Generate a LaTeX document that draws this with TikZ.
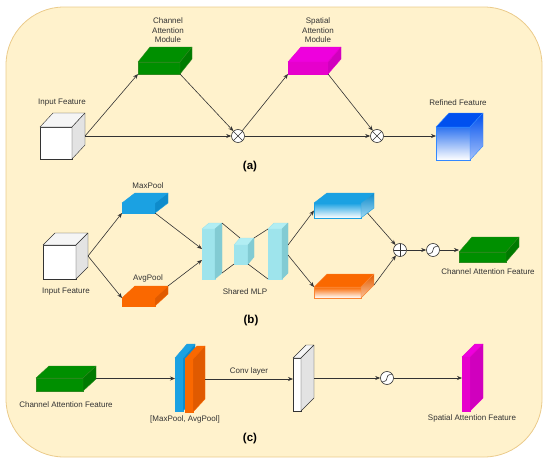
\documentclass[tikz,border=0pt]{standalone}
\usepackage{fontspec}
\setmainfont{Liberation Sans}
\usetikzlibrary{arrows.meta,calc}

\definecolor{panelfill}{HTML}{FFF2CC}
\definecolor{paneledge}{HTML}{EBCB8B}
\definecolor{inktext}{HTML}{333333}
\definecolor{camgreen}{HTML}{008F00}
\definecolor{camside}{HTML}{007A00}
\definecolor{camedge}{HTML}{2D8A1E}
\definecolor{samfront}{HTML}{E600CC}
\definecolor{samtop}{HTML}{EE00DD}
\definecolor{samside}{HTML}{D000BE}
\definecolor{reftop}{HTML}{0050EF}
\definecolor{reffront}{HTML}{2F74F0}
\definecolor{refedge}{HTML}{3388FF}
\definecolor{poolblue}{HTML}{1BA1E2}
\definecolor{poolblueside}{HTML}{0E8BCB}
\definecolor{poolorange}{HTML}{FA6800}
\definecolor{poolorangeside}{HTML}{E05A00}
\definecolor{mlpfront}{HTML}{9EE4EC}
\definecolor{mlptop}{HTML}{B2EEF3}
\definecolor{mlpside}{HTML}{82CBD3}

% top and side faces of a block whose front face is node #1
\newcommand{\boxfaces}[5]{%
  \draw[line join=round, #4] (#1.north west) -- ++(#2pt,#3pt)
    -- ([shift={(#2pt,#3pt)}]#1.north east) -- (#1.north east) -- cycle;
  \draw[line join=round, #5] (#1.north east) -- ++(#2pt,#3pt)
    -- ([shift={(#2pt,#3pt)}]#1.south east) -- (#1.south east) -- cycle;
  \coordinate (#1-out) at ([shift={(#2pt,#3pt/2)}]#1.east);
  \coordinate (#1-corner) at ([shift={(#2pt,#3pt)}]#1.north east);
  \coordinate (#1-far) at ([shift={(#2pt,#3pt)}]#1.south east);
  \coordinate (#1-bot) at ([shift={(#2pt/2,#3pt/2)}]#1.south east);
  \coordinate (#1-back) at ([shift={(#2pt,#3pt)}]#1.north west);
}

\begin{document}
\begin{tikzpicture}[
  x=1pt,
  y=-1pt,
  face/.style={draw, line width=0.5pt, inner sep=0pt, outer sep=0pt,
    anchor=north west},
  caption/.style={font=\fontsize{8}{9.5}\selectfont, text=inktext,
    align=center},
  panel tag/.style={font=\fontsize{11.5}{13}\selectfont\bfseries},
  op node/.style={circle, draw=inktext, fill=white, line width=0.6pt,
    minimum size=13pt, inner sep=0pt},
  times op/.style={op node, path picture={
    \draw[inktext, line width=0.6pt]
      (path picture bounding box.north west) -- (path picture bounding box.south east)
      (path picture bounding box.north east) -- (path picture bounding box.south west);}},
  plus op/.style={op node, path picture={
    \draw[inktext, line width=0.6pt]
      (path picture bounding box.north) -- (path picture bounding box.south)
      (path picture bounding box.west) -- (path picture bounding box.east);}},
  sigmoid op/.style={op node, path picture={
    \draw[inktext, line width=0.6pt]
      ([shift={(-4.5pt,-3.5pt)}]path picture bounding box.center)
      .. controls ([shift={(3.5pt,-3.5pt)}]path picture bounding box.center)
      and ([shift={(-3.5pt,3.5pt)}]path picture bounding box.center)
      .. ([shift={(4.5pt,3.5pt)}]path picture bounding box.center);}},
  flow link/.style={draw=inktext, line width=0.6pt,
    -{Stealth[length=5pt,width=4pt]}},
  mlp line/.style={draw=inktext, line width=0.6pt}
]
  \path[use as bounding box] (0,0) rectangle (550,466);
  \draw[draw=paneledge, fill=panelfill, line width=0.8pt, rounded corners=58pt]
    (6,7) rectangle (542,457);

  % (a) CBAM overview
  \node[face, draw=inktext, fill=white, minimum width=32pt,
    minimum height=32pt] (inA) at (40,127) {};
  \boxfaces{inA}{13}{14}{draw=inktext, fill=black!4}{draw=inktext, fill=black!11}
  \node[caption] (inAlbl) at (62,103) {Input Feature};

  \node[face, draw=camedge, fill=camgreen, minimum width=42pt,
    minimum height=12pt] (cam) at (138,62) {};
  \boxfaces{cam}{12}{15}{draw=camedge, fill=camgreen}{draw=camedge, fill=camside}
  \node[caption] (camlbl) at (168,30.5) {Channel\\Attention\\Module};

  \node[times op] (ot1) at (238,136) {};

  \node[face, draw=samfront, fill=samfront, minimum width=40pt,
    minimum height=12pt] (sam) at (288,62) {};
  \boxfaces{sam}{13}{15}{draw=samfront, fill=samtop}{draw=samfront, fill=samside}
  \node[caption] (samlbl) at (318,30.5) {Spatial\\Attention\\Module};

  \node[times op] (ot2) at (377,136) {};

  \node[face, draw=refedge, top color=reffront, bottom color=white,
    minimum width=34pt, minimum height=33pt] (ref) at (436,127) {};
  \boxfaces{ref}{13}{14}{draw=refedge, fill=reftop}%
    {draw=refedge, top color=reftop, bottom color=reftop!35}
  \node[caption] (reflbl) at (458,103) {Refined Feature};

  \draw[flow link] (inA-out) -- (cam.south west);
  \draw[flow link] (inA-out) -- (ot1);
  \draw[flow link] (cam.south east) -- (ot1);
  \draw[flow link] (ot1) -- (sam.south west);
  \draw[flow link] (sam.south east) -- (ot2);
  \draw[flow link] (ot1) -- (ot2);
  \draw[flow link] (ot2) -- (ot2 -| ref.west);

  \node[panel tag] (tagA) at (250,167) {(a)};

  % (b) channel attention module
  \node[face, draw=inktext, fill=white, minimum width=33pt,
    minimum height=34pt] (inB) at (43,245) {};
  \boxfaces{inB}{12}{12}{draw=inktext, fill=black!4}{draw=inktext, fill=black!11}
  \node[caption] (inBlbl) at (66,292) {Input Feature};

  \node[face, draw=poolblue, fill=poolblue, minimum width=33pt,
    minimum height=10pt] (mpB) at (122,203) {};
  \boxfaces{mpB}{13}{10}{draw=poolblue, fill=poolblue}{draw=poolblue, fill=poolblueside}
  \node[caption] (mpBlbl) at (148,186) {MaxPool};

  \node[face, draw=poolorange, fill=poolorange, minimum width=33pt,
    minimum height=8pt] (apB) at (122,298) {};
  \boxfaces{apB}{13}{12}{draw=poolorange, fill=poolorange}{draw=poolorange, fill=poolorangeside}
  \node[caption] (apBlbl) at (148,278) {AvgPool};

  \node[face, draw=mlpfront, fill=mlpfront, minimum width=13pt,
    minimum height=50pt] (mlp1) at (202,229) {};
  \boxfaces{mlp1}{7}{6}{draw=mlpfront, fill=mlptop}{draw=mlpside, fill=mlpside}
  \node[face, draw=mlpfront, fill=mlpfront, minimum width=14pt,
    minimum height=19pt] (mlp2) at (234,245) {};
  \boxfaces{mlp2}{6}{7}{draw=mlpfront, fill=mlptop}{draw=mlpside, fill=mlpside}
  \node[face, draw=mlpfront, fill=mlpfront, minimum width=14pt,
    minimum height=50pt] (mlp3) at (268,229) {};
  \boxfaces{mlp3}{6}{6}{draw=mlpfront, fill=mlptop}{draw=mlpside, fill=mlpside}
  \node[caption] (mlplbl) at (245,292) {Shared MLP};

  \node[face, draw=poolblue, top color=poolblue, bottom color=white,
    minimum width=47pt, minimum height=15pt] (ub) at (314,203) {};
  \boxfaces{ub}{13}{10}{draw=poolblue, fill=poolblue}%
    {draw=poolblue, top color=poolblueside, bottom color=poolblue!40}
  \node[face, draw=poolorange!80, top color=poolorange, bottom color=white,
    minimum width=47pt, minimum height=11pt] (lb) at (314,287) {};
  \boxfaces{lb}{13}{13}{draw=poolorange!80, fill=poolorange}%
    {draw=poolorange!80, top color=poolorangeside, bottom color=poolorange!40}

  \node[plus op] (op) at (400,250) {};
  \node[sigmoid op] (sg1) at (433,250) {};

  \node[face, draw=camedge, fill=camgreen, minimum width=47pt,
    minimum height=10pt] (caf) at (459,252) {};
  \boxfaces{caf}{13}{15}{draw=camedge, fill=camgreen}{draw=camedge, fill=camside}
  \node[caption] (caflbl) at (488,272) {Channel Attention Feature};

  \draw[flow link] (inB-out) -- (mpB.south west);
  \draw[flow link] (inB-out) -- (apB.north west);
  \draw[flow link] (mpB.south east) -- ([yshift=5pt]mlp1.west);
  \draw[flow link] (apB-corner) -- ([yshift=-6pt]mlp1.west);
  \draw[mlp line] (mlp1-corner) -- (mlp2-back);
  \draw[mlp line] (mlp1-far) -- (mlp2.south west);
  \draw[mlp line] (mlp2-corner) -- (mlp3.north west);
  \draw[mlp line] (mlp2.south east) -- (mlp3.south west);
  \draw[flow link] ([yshift=6pt]mlp3-out) -- (ub.west);
  \draw[flow link] ([yshift=-4pt]mlp3-out) -- (lb.north west);
  \draw[flow link] (ub-bot) -- (op);
  \draw[flow link] (lb-far) -- (op);
  \draw[flow link] (op) -- (sg1);
  \draw[flow link] (sg1) -- (sg1 -| caf.west);

  \node[panel tag] (tagB) at (251,321) {(b)};

  % (c) spatial attention module
  \node[face, draw=camedge, fill=camgreen, minimum width=47pt,
    minimum height=13pt] (cab) at (36,378) {};
  \boxfaces{cab}{13}{12}{draw=camedge, fill=camgreen}{draw=camedge, fill=camside}
  \node[caption] (cablbl) at (66,405) {Channel Attention Feature};

  \node[face, draw=poolblue, fill=poolblue, minimum width=8pt,
    minimum height=53pt] (mpC) at (175,358) {};
  \boxfaces{mpC}{12}{14}{draw=poolblue, fill=poolblue}{draw=poolblue, fill=poolblueside}
  \node[face, draw=poolorange, fill=poolorange, minimum width=8pt,
    minimum height=53pt] (apC) at (185,359) {};
  \boxfaces{apC}{12}{13}{draw=poolorange, fill=poolorange}{draw=poolorange, fill=poolorangeside}
  \node[caption] (poollbl) at (185,419) {[MaxPool, AvgPool]};

  \node[face, draw=inktext, fill=white, minimum width=8pt,
    minimum height=53pt] (conv) at (293,358) {};
  \boxfaces{conv}{13}{13}{draw=inktext, fill=black!4}{draw=inktext, fill=black!11}

  \node[sigmoid op] (sg2) at (387,378) {};

  \node[face, draw=samfront, fill=samfront, minimum width=8pt,
    minimum height=54pt] (saf) at (462,357) {};
  \boxfaces{saf}{13}{13}{draw=samfront, fill=samtop}{draw=samfront, fill=samside}
  \node[caption] (saflbl) at (472,418) {Spatial Attention Feature};

  \draw[flow link] (cab-out) -- (cab-out -| mpC.west);
  \draw[flow link] (apC-out) -- node[caption, above=0pt] {Conv layer}
    (apC-out -| conv.west);
  \draw[flow link] (conv-out) -- (sg2);
  \draw[flow link] (sg2) -- (sg2 -| saf.west);

  \node[panel tag] (tagC) at (250,439) {(c)};
\end{tikzpicture}
\end{document}
